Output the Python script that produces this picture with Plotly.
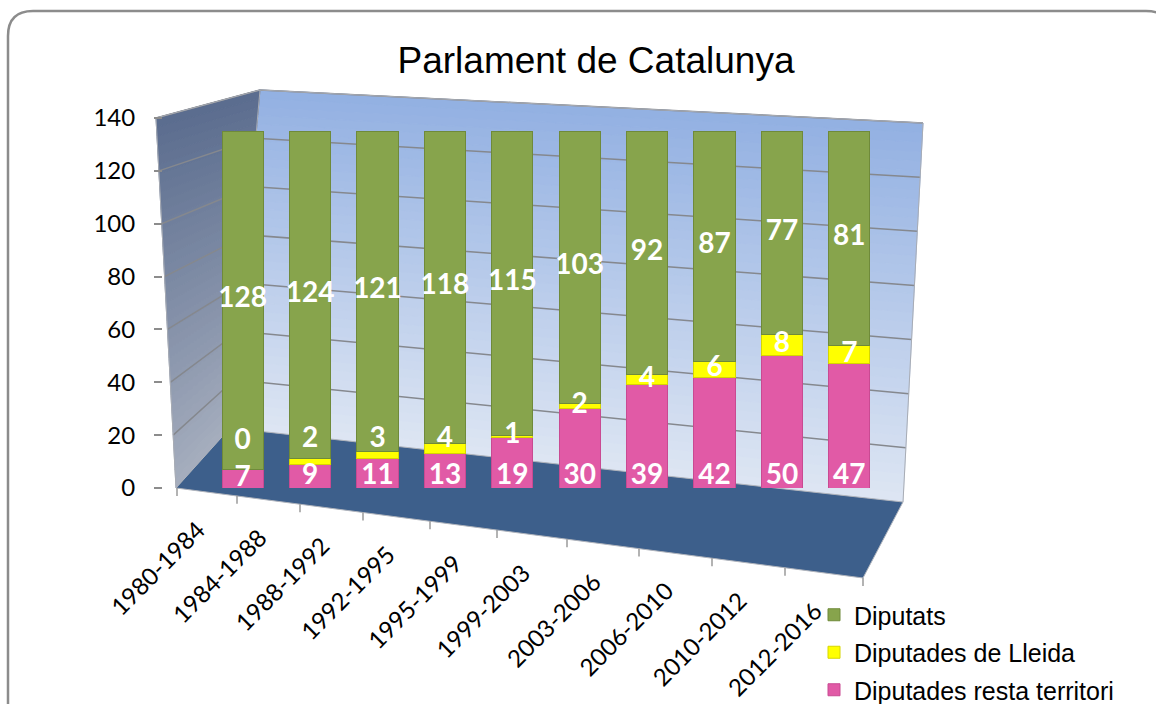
import plotly.graph_objects as go

# ---------------- data ----------------
periods = ["1980-1984", "1984-1988", "1988-1992", "1992-1995", "1995-1999",
           "1999-2003", "2003-2006", "2006-2010", "2010-2012", "2012-2016"]
diputats = [128, 124, 121, 118, 115, 103, 92, 87, 77, 81]
lleida = [0, 2, 3, 4, 1, 2, 4, 6, 8, 7]
resta = [7, 9, 11, 13, 19, 30, 39, 42, 50, 47]
y_ticks = [0, 20, 40, 60, 80, 100, 120, 140]

# ---------------- geometry (screen pixels of the 1156x704 window) ----------------
OFF = 0                      # page margin removed by the post script
W, H = 1156 - 2 * OFF, 704 - 2 * OFF
Y0_PX, Y140_PX = 488, 118
YMAX = 140


def P(x, y):
    return (x - OFF) / W, 1 - (y - OFF) / H


def front(t):   # front edge of side wall
    return 176 - 20 * t, 488 - 370 * t


def back_left(t):
    return 230 + 30 * t, 428 - 338 * t


def back_right(t):
    return 903 + 20 * t, 502 - 379 * t


def path(points, close=True):
    s = ""
    for i, (x, y) in enumerate(points):
        px, py = P(x, y)
        s += ("M" if i == 0 else "L") + f"{px:.5f},{py:.5f} "
    return s + ("Z" if close else "")


def lerp_col(c0, c1, f):
    return "rgb(%d,%d,%d)" % tuple(round(a + (b - a) * f) for a, b in zip(c0, c1))


shapes = []
N = 40
back_top, back_bot = (146, 176, 226), (222, 230, 243)
side_top, side_bot = (90, 108, 142), (166, 174, 190)
for i in range(N):
    t0, t1 = i / N, (i + 1) / N
    f = 1 - (t0 + t1) / 2
    cb = lerp_col(back_top, back_bot, f)
    cs = lerp_col(side_top, side_bot, f)
    shapes.append(dict(type="path", xref="paper", yref="paper", layer="below",
                       path=path([back_left(t0), back_right(t0), back_right(t1), back_left(t1)]),
                       fillcolor=cb, line=dict(color=cb, width=1)))
    shapes.append(dict(type="path", xref="paper", yref="paper", layer="below",
                       path=path([front(t0), back_left(t0), back_left(t1), front(t1)]),
                       fillcolor=cs, line=dict(color=cs, width=1)))

# floor
shapes.append(dict(type="path", xref="paper", yref="paper", layer="below",
                   path=path([(176, 488), (230, 428), (903, 502), (863, 578)]),
                   fillcolor="#3d5f8b", line=dict(color="#b0b4bc", width=1)))

# gridlines (slanted, following the walls)
for v in y_ticks[1:]:
    t = v / YMAX
    shapes.append(dict(type="path", xref="paper", yref="paper", layer="below",
                       path=path([front(t), back_left(t), back_right(t)], close=False),
                       line=dict(color="#85888e", width=1.5)))

# wall edges
for a, b in [((176, 488), (156, 118)), ((156, 118), (260, 90)), ((260, 90), (923, 123)),
             ((923, 123), (903, 502)), ((260, 90), (230, 428))]:
    pa, pb = P(*a), P(*b)
    shapes.append(dict(type="line", xref="paper", yref="paper", layer="below",
                       x0=pa[0], y0=pa[1], x1=pb[0], y1=pb[1],
                       line=dict(color="#a8acb4", width=1)))

# front-edge category tick marks
front_ticks = [177, 237, 300, 363, 430, 497, 567, 639, 712, 785, 863]


def edge_y(x):
    return 488 + (x - 177) * (578 - 488) / (863 - 177)


for tx in front_ticks:
    pa, pb = P(tx, edge_y(tx)), P(tx, edge_y(tx) + 8)
    shapes.append(dict(type="line", xref="paper", yref="paper", layer="below",
                       x0=pa[0], y0=pa[1], x1=pb[0], y1=pb[1],
                       line=dict(color="#9a9a9a", width=1.5)))

# rounded chart border
bx0, by0, r = 8, 11, 25
b = [P(bx0, 730), P(bx0, by0 + r), P(bx0, by0), P(bx0 + r, by0),
     P(1146, by0), P(1171, by0), P(1171, by0 + r), P(1171, 730)]
border = (f"M{b[0][0]},{b[0][1]} L{b[1][0]},{b[1][1]} Q{b[2][0]},{b[2][1]} {b[3][0]},{b[3][1]} "
          f"L{b[4][0]},{b[4][1]} Q{b[5][0]},{b[5][1]} {b[6][0]},{b[6][1]} L{b[7][0]},{b[7][1]}")
shapes.append(dict(type="path", xref="paper", yref="paper", path=border,
                   line=dict(color="#8c8c8c", width=2.5)))

# ---------------- traces ----------------
fig = go.Figure()
fig.add_trace(go.Bar(x=periods, y=resta, name="Diputades resta territori", legendrank=3,
                     marker=dict(color="#e15aa6", line=dict(color="#c94a92", width=1)),
                     legendgroup="c", hoverinfo="skip"))
fig.add_trace(go.Bar(x=periods, y=lleida, name="Diputades de Lleida", legendrank=2,
                     marker=dict(color="#ffff00", line=dict(color="#d6d600", width=1)),
                     legendgroup="b", hoverinfo="skip"))
fig.add_trace(go.Bar(x=periods, y=diputats, name="Diputats", legendrank=1,
                     marker=dict(color="#87a44c", line=dict(color="#6f8a3a", width=1)),
                     legendgroup="a", hoverinfo="skip"))

# data labels
pink_y = [min(p / 2, 4) for p in resta]
yel_y = [max(p + l / 2, py + 14) for p, l, py in zip(resta, lleida, pink_y)]
green_y = [p + l + g / 2 for p, l, g in zip(resta, lleida, diputats)]
lab_font = dict(family="Lato", size=28, color="white", weight="bold")
for ys, vals in [(pink_y, resta), (yel_y, lleida), (green_y, diputats)]:
    fig.add_trace(go.Scatter(x=periods, y=ys, mode="text", text=[str(v) for v in vals],
                             textfont=lab_font, showlegend=False, hoverinfo="skip"))

# category labels along the slanted front edge
annotations = []
for i, name in enumerate(periods):
    cx = (front_ticks[i] + front_ticks[i + 1]) / 2
    px, py = P(cx + 6, edge_y(cx) + 20)
    annotations.append(dict(text=name, x=px, y=py, xref="paper", yref="paper",
                            xanchor="right", yanchor="top", textangle=-45, showarrow=False,
                            font=dict(family="Lato", size=24, color="black")))

fig.update_layout(
    width=W, height=H,
    margin=dict(l=0, r=0, t=0, b=0, autoexpand=False),
    paper_bgcolor="white", plot_bgcolor="rgba(0,0,0,0)",
    barmode="stack", bargap=0.39,
    title=dict(text="Parlament de Catalunya", x=P(596, 0)[0], xanchor="center", xref="paper",
               y=P(0, 60)[1], yanchor="middle", yref="paper",
               font=dict(family="Liberation Sans", size=37, color="black")),
    xaxis=dict(domain=[P(209, 0)[0], P(883, 0)[0]], range=[-0.5, 9.5], showticklabels=False,
               showgrid=False, zeroline=False, showline=False, ticks="", automargin=False),
    yaxis=dict(domain=[P(0, Y0_PX)[1], P(0, Y140_PX)[1]], range=[0, YMAX], tickvals=y_ticks,
               anchor="free", position=P(162, 0)[0], showgrid=False, zeroline=False,
               showline=False, ticks="outside", ticklen=8, tickcolor="#8c8c8c", tickwidth=1.5,
               ticklabelstandoff=14, automargin=False,
               tickfont=dict(family="Lato", size=24, color="black")),
    legend=dict(x=P(814, 0)[0], y=P(0, 592)[1], xanchor="left", yanchor="top",
                traceorder="grouped", tracegroupgap=2,
                font=dict(family="Liberation Sans", size=25, color="black"),
                bgcolor="rgba(0,0,0,0)"),
    shapes=shapes,
    annotations=annotations,
    showlegend=True,
)

fig.write_html("out.html", config={"displayModeBar": False},
               post_script="document.body.style.margin='0';")
